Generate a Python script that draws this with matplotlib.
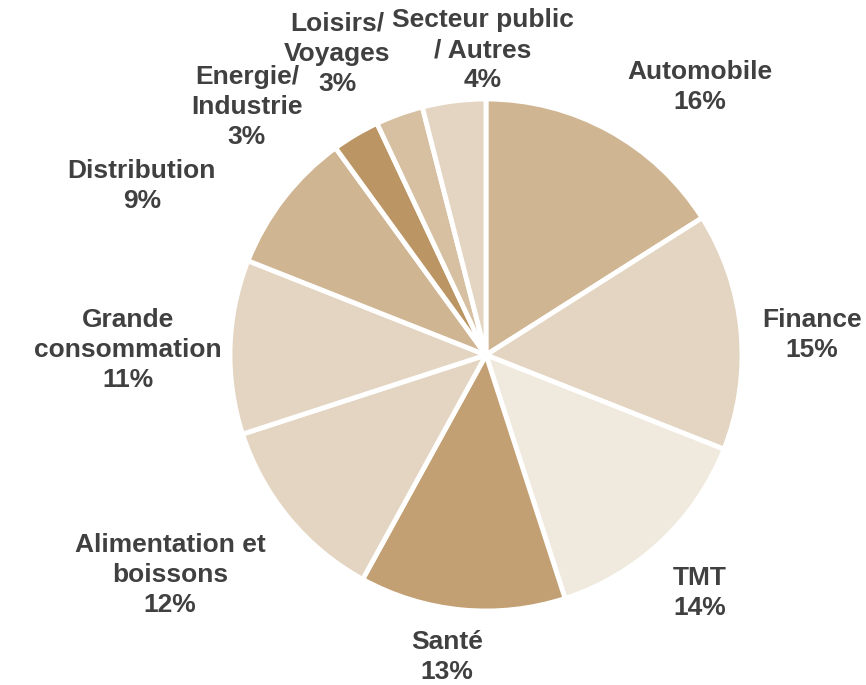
import matplotlib
matplotlib.use("Agg")
import matplotlib.pyplot as plt
from matplotlib import font_manager as fm

labels = ["Automobile", "Finance", "TMT", "Santé", "Alimentation et\nboissons",
          "Grande\nconsommation", "Distribution", "Energie/\nIndustrie",
          "Loisirs/\nVoyages", "Secteur public\n/ Autres"]
values = [16, 15, 14, 13, 12, 11, 9, 3, 3, 4]
colors = ["#CFB591", "#E3D5C1", "#F0E9DE", "#C3A073", "#E3D5C1",
          "#E3D5C1", "#CFB591", "#BB9563", "#D6C0A1", "#E3D5C1"]
# label positions in units of pie radius (relative to centre)
label_pos = [(0.836, 1.047), (1.273, 0.078), (0.836, -0.930), (-0.152, -1.180),
             (-1.234, -0.859), (-1.398, 0.020), (-1.344, 0.660), (-0.934, 0.969),
             (-0.582, 1.176), (-0.012, 1.191)]

W, H = 866, 685
cx, cy, R = 486, 355, 256
fig = plt.figure(figsize=(W / 100, H / 100), dpi=100)
ax = fig.add_axes([0, 0, 1, 1])
ax.pie(values, colors=colors, startangle=90, counterclock=False, radius=1,
       wedgeprops=dict(edgecolor="white", linewidth=3.5))
ax.set_xlim(-cx / R, (W - cx) / R)
ax.set_ylim(-(H - cy) / R, cy / R)
ax.set_aspect("equal")
ax.axis("off")

fp = fm.FontProperties(family=["Liberation Sans", "DejaVu Sans"], weight="bold", size=19)
for lab, v, (x, y) in zip(labels, values, label_pos):
    ax.text(x, y, f"{lab}\n{v}%", ha="center", va="center", fontproperties=fp,
            color="#404040", linespacing=1.33)

fig.savefig("out.png", dpi=100)
